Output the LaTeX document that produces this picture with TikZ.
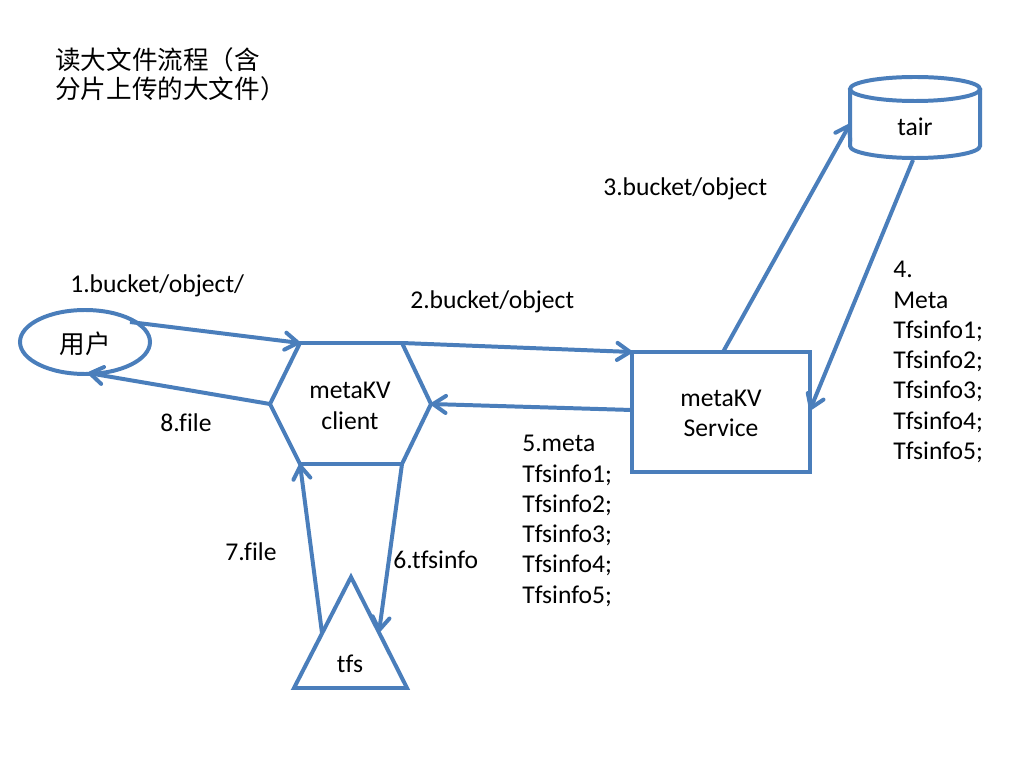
\documentclass[tikz,border=0pt]{standalone}
\usepackage{fontspec}
\setmainfont{Carlito}[Ligatures=NoCommon]
\newfontfamily\cjk{Noto Sans CJK SC}
\usetikzlibrary{arrows.meta,shapes.geometric}
\definecolor{lineblue}{HTML}{4A7EBB}
\tikzset{
  shapeline/.style={draw=lineblue, line width=2.8pt, line join=miter},
  conn/.style={draw=lineblue, line width=2.8pt, -{Straight Barb[length=9pt,width=12pt,line width=2.8pt,round]}},
  lbl/.style={inner sep=0pt, font=\fontsize{18}{21.3}\selectfont, text=black},
  cjklbl/.style={inner sep=0pt, font=\cjk\fontsize{18}{20.4}\selectfont, text=black},
}
\begin{document}
\begin{tikzpicture}[x=0.703125pt,y=-0.703125pt]
\useasboundingbox[fill=white] (0,0) rectangle (1024,768);

% title
\node[cjklbl, anchor=west] (t1) at (55,60) {读大文件流程（含};
\node[cjklbl, anchor=west] (t2) at (55,89) {分片上传的大文件）};

% user ellipse
\node[shapeline, ellipse, minimum width=130*0.703125pt, minimum height=64*0.703125pt, inner sep=0pt] (user) at (85,342) {};
\node[cjklbl] (usertxt) at (85,344) {用户};

% hexagon metaKV client
\coordinate (h1) at (300,343);
\coordinate (h2) at (402,343);
\coordinate (h3) at (431,404);
\coordinate (h4) at (402,464);
\coordinate (h5) at (300,464);
\coordinate (h6) at (270,404);
\draw[shapeline] (h1) -- (h2) -- (h3) -- (h4) -- (h5) -- (h6) -- cycle;
\node[lbl, align=center] (client) at (350,406) {metaKV\\client};

% service rectangle
\node[shapeline, rectangle, minimum width=178*0.703125pt, minimum height=120*0.703125pt, inner sep=0pt] (svc) at (721,412) {};
\node[lbl, align=center] (svctxt) at (721,413.5) {metaKV\\Service};

% tair cylinder
\draw[shapeline] (850,89) -- (850,146) arc[start angle=180,end angle=0,x radius=65,y radius=12] -- (980,89);
\draw[shapeline] (915,89) ellipse[x radius=65,y radius=12];
\node[lbl] (tair) at (915,127) {tair};

% tfs triangle
\coordinate (ta) at (351,577);
\coordinate (tb) at (407,688);
\coordinate (tc) at (294,688);
\draw[shapeline] (ta) -- (tb) -- (tc) -- cycle;
\node[lbl] (tfs) at (350,664) {tfs};

% connector end points
\coordinate (u1) at (130,322);
\coordinate (u8) at (88,373);
\coordinate (s2) at (632,352);
\coordinate (s5) at (632,410);
\coordinate (s3) at (723,352);
\coordinate (c3) at (850,124);
\coordinate (c4) at (913,160);
\coordinate (s4) at (810,410);
\coordinate (r6) at (379,632);
\coordinate (l7) at (322,633);

\draw[conn] (u1) -- (h1);
\draw[conn] (h6) -- (u8);
\draw[conn] (h2) -- (s2);
\draw[conn] (s5) -- (h3);
\draw[conn] (s3) -- (c3);
\draw[conn] (c4) -- (s4);
\draw[conn] (h4) -- (r6);
\draw[conn] (l7) -- (h5);

% labels
\node[lbl, anchor=west] (L1) at (70,286) {1.bucket/object/};
\node[lbl, anchor=west] (L2) at (410,302) {2.bucket/object};
\node[lbl, anchor=west] (L3) at (603,189) {3.bucket/object};
\node[lbl, anchor=north west, align=left] (L4) at (893,261) {4.\\Meta\\Tfsinfo1;\\Tfsinfo2;\\Tfsinfo3;\\Tfsinfo4;\\Tfsinfo5;};
\node[lbl, anchor=north west, align=left] (L5) at (522,435) {5.meta\\Tfsinfo1;\\Tfsinfo2;\\Tfsinfo3;\\Tfsinfo4;\\Tfsinfo5;};
\node[lbl, anchor=west] (L6) at (393,560) {6.tfsinfo};
\node[lbl, anchor=west] (L7) at (225,552) {7.file};
\node[lbl, anchor=west] (L8) at (160,423) {8.file};
\end{tikzpicture}
\end{document}
